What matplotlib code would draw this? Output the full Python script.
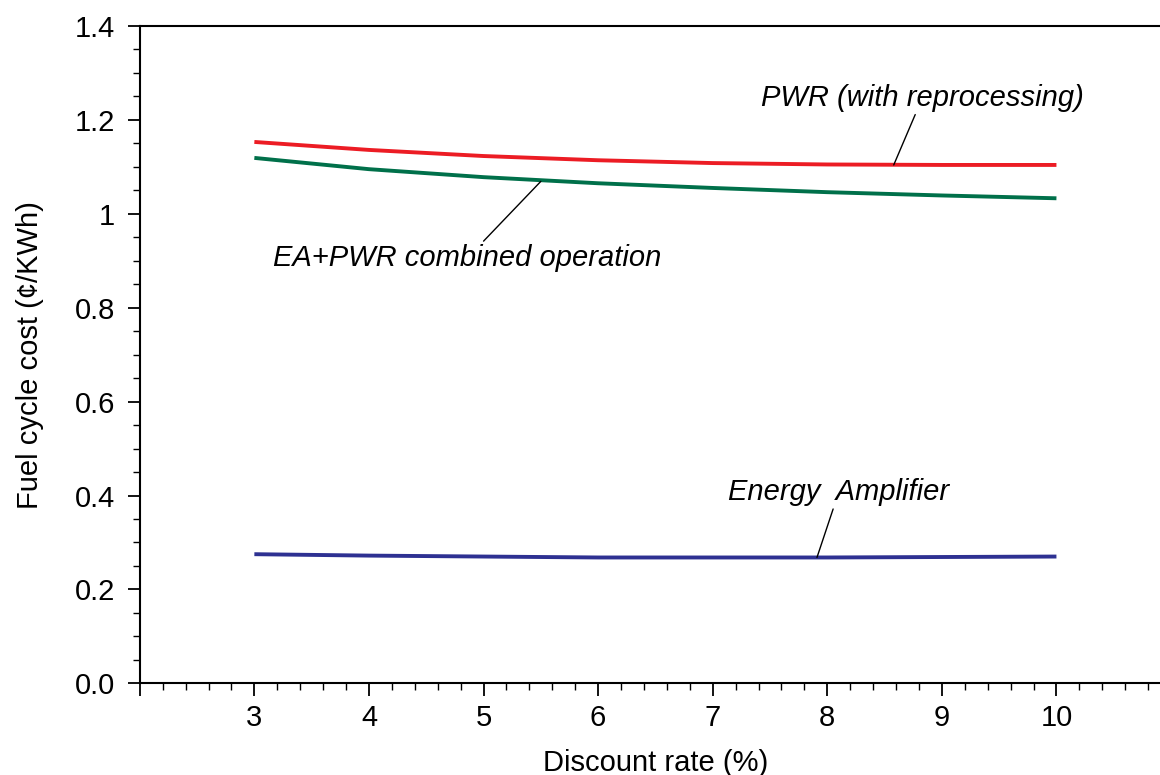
import numpy as np
import matplotlib
matplotlib.use("Agg")
from matplotlib import pyplot as plt
from matplotlib.ticker import MultipleLocator, FixedLocator, FuncFormatter

plt.rcParams.update({
    "font.family": ["Liberation Sans", "DejaVu Sans"],
    "font.size": 21,
})

# Fuel cycle cost vs. discount rate
discount_rate = [3, 4, 5, 6, 7, 8, 9, 10]  # %
pwr_reproc = [1.153, 1.136, 1.123, 1.114, 1.108, 1.105, 1.104, 1.104]
ea_pwr = [1.119, 1.095, 1.078, 1.065, 1.055, 1.046, 1.039, 1.033]
energy_amp = [0.275, 0.272, 0.270, 0.268, 0.268, 0.268, 0.269, 0.270]

ytick_vals = [0.0, 0.2, 0.4, 0.6, 0.8, 1.0, 1.2, 1.4]
ytick_labels = ["0.0", "0.2", "0.4", "0.6", "0.8", "1", "1.2", "1.4"]

fig = plt.figure(figsize=(11.6, 7.75), dpi=100)
ax = fig.add_axes([0.1205, 0.1183, 0.889, 0.8482])

ax.plot(discount_rate, pwr_reproc, color="#ec1c24", lw=2.8, solid_capstyle="butt")
ax.plot(discount_rate, ea_pwr, color="#00704a", lw=2.8, solid_capstyle="butt")
ax.plot(discount_rate, energy_amp, color="#2e3192", lw=2.8, solid_capstyle="butt")

ax.set_xlim(2, 11)
ax.set_ylim(0, 1.4)

ax.xaxis.set_major_locator(MultipleLocator(1))
ax.xaxis.set_minor_locator(MultipleLocator(0.2))
ax.xaxis.set_major_formatter(FuncFormatter(lambda v, p: f"{v:.0f}" if 3 <= v <= 10 else ""))
ax.yaxis.set_major_locator(FixedLocator(ytick_vals))
ax.set_yticklabels(ytick_labels)
ax.yaxis.set_minor_locator(MultipleLocator(0.05))

ax.tick_params(which="major", direction="out", length=9, width=1.3, labelsize=21)
ax.tick_params(axis="x", which="major", pad=6)
ax.tick_params(axis="y", which="major", pad=9)
ax.tick_params(which="minor", direction="out", length=5, width=1.0)

ax.spines["right"].set_visible(False)
for s in ["left", "bottom", "top"]:
    ax.spines[s].set_linewidth(1.5)

ax.set_xlabel("Discount rate (%)", fontsize=21, labelpad=12)
ax.set_ylabel("Fuel cycle cost (\u00a2/KWh)", fontsize=21, labelpad=22)

# curve labels with leader lines
lbl = dict(fontsize=21, style="italic", ha="center", va="center",
           arrowprops=dict(arrowstyle="-", color="black", lw=1.0, shrinkA=0, shrinkB=0))
ax.annotate("PWR (with reprocessing)", xy=(8.58, 1.104), xytext=(8.83, 1.247),
            **lbl)
ax.annotate("EA+PWR combined operation", xy=(5.50, 1.069), xytext=(4.86, 0.906),
            **lbl)
ax.annotate("Energy  Amplifier", xy=(7.91, 0.268), xytext=(8.10, 0.407),
            **lbl)

fig.savefig("out.png", dpi=100)
